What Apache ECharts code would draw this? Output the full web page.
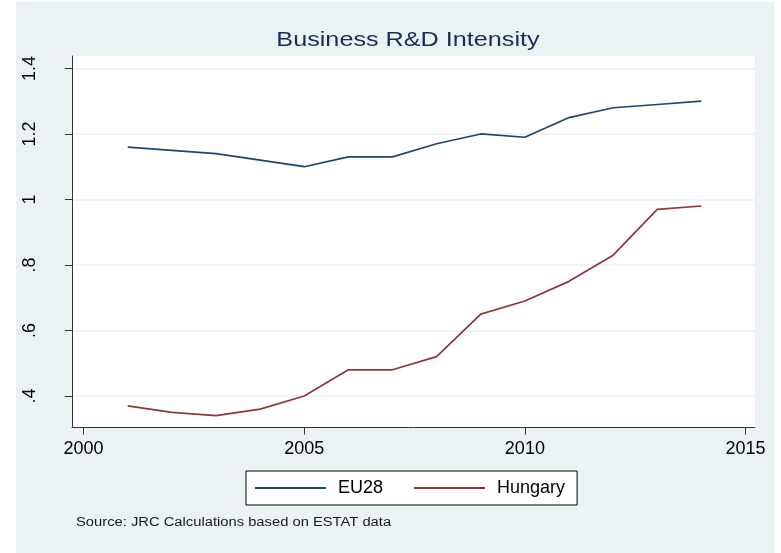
<!DOCTYPE html>
<html>
<head>
<meta charset="utf-8">
<script src="https://cdn.jsdelivr.net/npm/echarts@6/dist/echarts.min.js"></script>
<style>
  html, body { margin: 0; padding: 0; background: #fff; }
  #chart { position: absolute; left: 16px; top: 2px; width: 758px; height: 551px; }
</style>
</head>
<body>
<div id="chart"></div>
<script>
// data
var years = [2001, 2002, 2003, 2004, 2005, 2006, 2007, 2008, 2009, 2010, 2011, 2012, 2013, 2014];
var eu28 = [1.16, 1.15, 1.14, 1.12, 1.10, 1.13, 1.13, 1.17, 1.20, 1.19, 1.25, 1.28, 1.29, 1.30];
var hungary = [0.37, 0.35, 0.34, 0.36, 0.40, 0.48, 0.48, 0.52, 0.65, 0.69, 0.75, 0.83, 0.97, 0.98];
var xTicks = [2000, 2005, 2010, 2015];
var yTicks = [0.4, 0.6, 0.8, 1, 1.2, 1.4];

function pairs(vals) {
  var out = [];
  for (var i = 0; i < years.length; i++) {
    out.push([years[i], vals[i]]);
  }
  return out;
}

var chart = echarts.init(document.getElementById('chart'));
var font = 'Liberation Sans, Arial, Helvetica, sans-serif';

chart.setOption({
  backgroundColor: '#eaf2f3',
  animation: false,
  graphic: [
    {
      type: 'text', x: 392, y: 38, scaleX: 1.2,
      style: { text: 'Business R&D Intensity', align: 'center', verticalAlign: 'middle',
               font: '21px ' + font, fill: '#1c2b56' }
    },
    {
      type: 'text', x: 60, y: 521, scaleX: 1.18,
      style: { text: 'Source: JRC Calculations based on ESTAT data', align: 'left', verticalAlign: 'middle',
               font: '12.5px ' + font, fill: '#1a1a1a' }
    }
  ],
  grid: {
    left: 56, top: 54, right: 19, bottom: 125.5,
    show: true, backgroundColor: '#fff', borderWidth: 0
  },
  legend: {
    left: 230, top: 469,
    padding: [8, 12, 8, 9],
    backgroundColor: '#fff',
    borderColor: '#000',
    borderWidth: 1,
    borderRadius: 0,
    icon: 'rect',
    itemWidth: 71,
    itemHeight: 2,
    itemGap: 31,
    textStyle: { fontFamily: font, fontSize: 18, color: '#000', padding: [0, 0, 0, 7] },
    data: ['EU28', 'Hungary']
  },
  xAxis: {
    type: 'value',
    min: 1999.737, max: 2015.215,
    axisLine: { show: true, lineStyle: { color: '#333', width: 1 } },
    axisTick: { show: true, length: 7, lineStyle: { color: '#333' }, customValues: xTicks },
    axisLabel: {
      customValues: xTicks, margin: 13, fontFamily: font, fontSize: 18, color: '#000',
      formatter: function (v) { return String(Math.round(v)); }
    },
    splitLine: { show: false }
  },
  yAxis: {
    type: 'value',
    min: 0.3038, max: 1.438,
    axisLine: { show: true, lineStyle: { color: '#333', width: 1 } },
    axisTick: { show: true, length: 7, lineStyle: { color: '#333' }, customValues: yTicks },
    axisLabel: {
      customValues: yTicks, rotate: 90, margin: 33,
      fontFamily: font, fontSize: 18, color: '#000',
      formatter: function (v) { return String(Math.round(v * 10) / 10).replace(/^0\./, '.'); }
    },
    splitLine: { show: true, lineStyle: { color: '#eaf2f3', width: 1.5 } }
  },
  series: [
    {
      name: 'EU28', type: 'line', symbol: 'none',
      lineStyle: { color: '#1a476f', width: 1.7 },
      itemStyle: { color: '#1a476f' },
      data: pairs(eu28)
    },
    {
      name: 'Hungary', type: 'line', symbol: 'none',
      lineStyle: { color: '#90353b', width: 1.7 },
      itemStyle: { color: '#90353b' },
      data: pairs(hungary)
    }
  ]
});
</script>
</body>
</html>
